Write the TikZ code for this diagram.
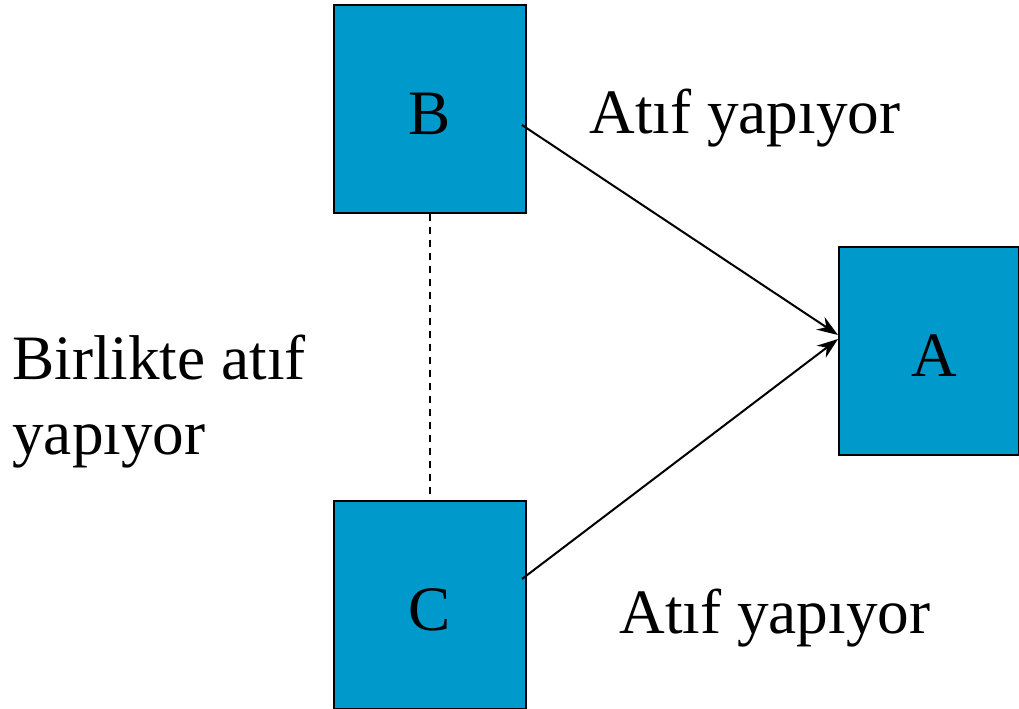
\documentclass[tikz,border=0pt]{standalone}
\usepackage{fontspec}
\setmainfont{Liberation Serif}
\usepackage{tikz}
\usetikzlibrary{calc,positioning,arrows.meta}
\definecolor{boxblue}{HTML}{0099CC}

\begin{document}
\begin{tikzpicture}[x=0.02cm,y=-0.02cm,
    paper/.style={draw=black,line width=0.04cm,fill=boxblue,minimum width=3.84cm,minimum height=4.16cm,inner sep=0pt,text height=1.02cm,text depth=0pt,font=\fontsize{36}{43}\selectfont},
    cites/.style={line width=0.04cm,-{Stealth[length=0.42cm,width=0.3cm]}},
    lbl/.style={font=\fontsize{36}{43}\selectfont,inner sep=0pt}]
        \useasboundingbox (0,0) rectangle (1019,709);
        \node[paper] (B) at (430,109) {B};
        \node[paper] (C) at (430,605) {C};
        \node[paper,minimum width=3.6cm] (A) at (929,351) {\hspace{0.2cm}A};
        \draw [cites] ([shift={(-0.1cm,-0.32cm)}]B.east) -- ([yshift=0.32cm]A.west);
        \draw [cites] ([shift={(-0.1cm,0.52cm)}]C.east) -- ([yshift=0.24cm]A.west);
        \draw [line width=0.03cm,dash pattern=on 0.14cm off 0.12cm] (B.south) -- (C.north);
        \node[lbl] (citeB) at (745,118) {Atıf yapıyor};
        \node[lbl] (citeC) at (775,618) {Atıf yapıyor};
        \node[lbl,align=left,anchor=base west] (cocite) at (12,455) {Birlikte atıf\\yapıyor};
    \end{tikzpicture}
\end{document}
